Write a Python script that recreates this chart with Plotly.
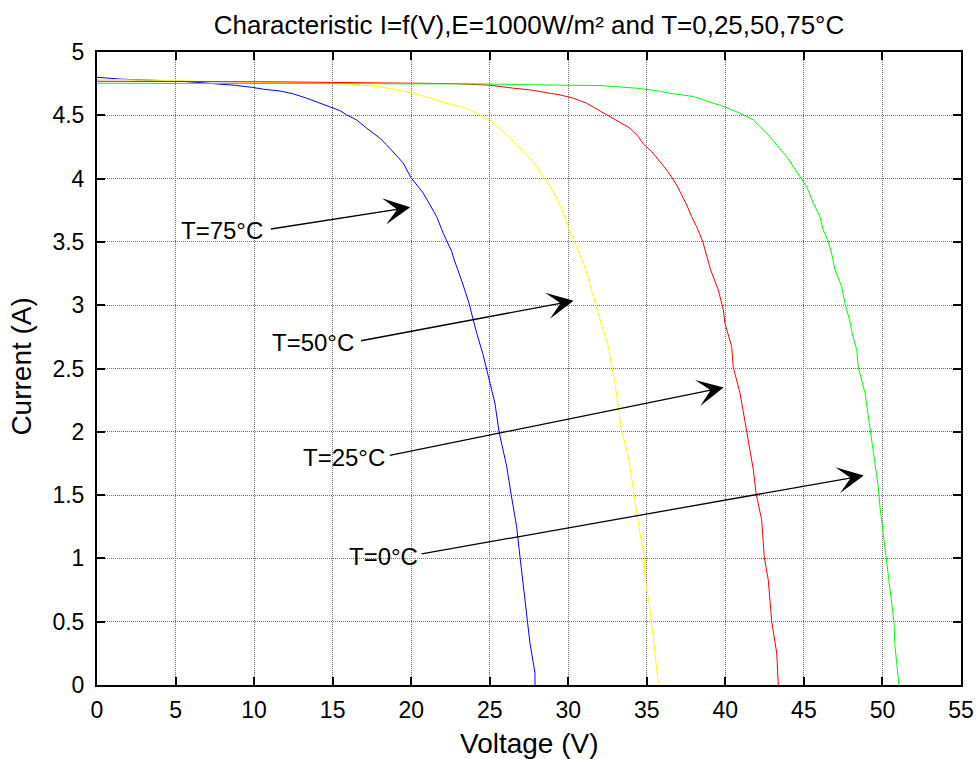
import plotly.graph_objects as go

# I-V characteristic of a PV module, E = 1000 W/m², four cell temperatures
v_t75 = [0, 1.6, 5.4, 7.4, 8.8, 9.85, 10.6, 11.65, 12.5, 13.35, 14.19, 14.83, 15.47, 15.89,
         16.53, 17.17, 18.01, 18.44, 19.08, 19.5, 19.97, 20.35, 20.77, 21.2, 21.62, 22.04,
         22.58, 22.74, 23.2, 23.68, 23.95, 24.17, 24.55, 24.76, 25.02, 25.33, 25.59, 25.86,
         26.08, 26.35, 26.71, 26.93, 27.14, 27.41, 27.56, 27.88, 27.88]
i_t75 = [4.80, 4.785, 4.769, 4.753, 4.737, 4.721, 4.706, 4.692, 4.669, 4.635, 4.595, 4.569,
         4.537, 4.503, 4.463, 4.398, 4.319, 4.266, 4.174, 4.122, 4.011, 3.95, 3.885, 3.792,
         3.70, 3.569, 3.424, 3.358, 3.20, 3.016, 2.884, 2.779, 2.621, 2.511, 2.385, 2.227,
         2.002, 1.858, 1.726, 1.516, 1.252, 1.008, 0.779, 0.502, 0.332, 0.095, 0.0]

v_t50 = [0, 6.7, 11.65, 15.89, 18.01, 19.97, 21.2, 22.26, 23.53, 24.17, 25.02, 26.08, 26.72,
         27.35, 27.99, 28.41, 28.84, 29.26, 29.68, 29.9, 30.32, 30.96, 31.17, 31.59, 32.02,
         32.55, 32.97, 33.18, 33.4, 33.72, 33.93, 34.14, 34.35, 34.56, 34.84, 34.88, 35.2,
         35.31, 35.52, 35.73]
i_t50 = [4.785, 4.769, 4.753, 4.748, 4.726, 4.679, 4.635, 4.595, 4.556, 4.516, 4.463, 4.345,
         4.266, 4.187, 4.095, 4.011, 3.937, 3.845, 3.727, 3.648, 3.516, 3.332, 3.253, 3.068,
         2.884, 2.674, 2.385, 2.20, 2.002, 1.858, 1.726, 1.542, 1.358, 1.20, 1.008, 0.858,
         0.595, 0.49, 0.253, 0.0]

v_t25 = [0, 11.65, 22.7, 25.0, 26.5, 27.6, 29.47, 30.32, 31.17, 32.23, 33.08, 33.93, 34.46,
         34.77, 35.31, 35.84, 36.26, 36.58, 36.9, 37.22, 37.54, 37.85, 38.17, 38.56, 38.81,
         39.06, 39.55, 39.87, 39.97, 40.4, 40.5, 40.93, 41.36, 41.78, 41.95, 42.31,
         42.48, 42.73, 42.95, 43.27, 43.37]
i_t25 = [4.769, 4.764, 4.75, 4.738, 4.714, 4.70, 4.661, 4.635, 4.595, 4.521, 4.463, 4.398,
         4.332, 4.274, 4.213, 4.134, 4.069, 4.011, 3.95, 3.871, 3.792, 3.70, 3.621, 3.503,
         3.398, 3.279, 3.121, 2.963, 2.858, 2.674, 2.511, 2.306, 2.002, 1.70, 1.516,
         1.305, 1.008, 0.831, 0.502, 0.253, 0.0]

v_t0 = [0, 24.4, 29.47, 32.02, 34.35, 35.63, 36.47, 37.96, 39.23, 39.93, 40.93, 41.78, 42.63,
        43.27, 43.9, 44.32, 44.75, 45.17, 45.6, 46.02, 46.23, 46.55, 46.76, 46.98, 47.4,
        47.61, 47.93, 48.04, 48.36, 48.46, 48.89, 49.1, 49.38, 49.73, 49.84, 50.05, 50.27,
        50.48, 50.73, 50.8, 51.05]
i_t0 = [4.753, 4.748, 4.738, 4.735, 4.714, 4.695, 4.674, 4.648, 4.595, 4.569, 4.516, 4.463,
        4.358, 4.266, 4.174, 4.095, 4.011, 3.937, 3.806, 3.70, 3.595, 3.503, 3.411, 3.279,
        3.147, 3.016, 2.871, 2.792, 2.647, 2.511, 2.306, 2.121, 1.911, 1.568, 1.41, 1.20,
        1.008, 0.779, 0.502, 0.305, 0.0]

curve_colors = ["#0000ff", "#ffff00", "#ff0000", "#00ff00"]

# callout labels: text, text centre (V, I), arrow tail (V, I), arrow head (V, I)
label_text = ["T=75°C", "T=50°C", "T=25°C", "T=0°C"]
label_pos = [(7.93, 3.594), (13.75, 2.705), (15.7, 1.80), (18.25, 1.015)]
arrow_tail = [(10.97, 3.60), (16.71, 2.717), (18.54, 1.812), (20.57, 1.034)]
arrow_head = [(19.94, 3.773), (30.34, 3.035), (39.89, 2.349), (48.81, 1.654)]

x_ticks = list(range(0, 56, 5))
y_ticks = [k * 0.5 for k in range(11)]

FONT = "Liberation Sans, Arial, sans-serif"

fig = go.Figure()
for v, i, c in zip([v_t75, v_t50, v_t25, v_t0], [i_t75, i_t50, i_t25, i_t0], curve_colors):
    fig.add_trace(go.Scatter(x=v, y=i, mode="lines", line=dict(color=c, width=1),
                             showlegend=False, hoverinfo="skip"))

annotations = []
for txt, (tx, ty), (ax, ay), (hx, hy) in zip(label_text, label_pos, arrow_tail, arrow_head):
    annotations.append(dict(x=hx, y=hy, ax=ax, ay=ay, xref="x", yref="y", axref="x", ayref="y",
                            text="", showarrow=True, arrowhead=3, arrowsize=3.4,
                            arrowwidth=1.3, arrowcolor="black", standoff=0))
    annotations.append(dict(x=tx, y=ty, xref="x", yref="y", text=txt, showarrow=False,
                            font=dict(family=FONT, size=24, color="black"),
                            xanchor="center", yanchor="middle"))

# axis titles
annotations.append(dict(x=0.5, y=-0.0927, xref="paper", yref="paper", text="Voltage (V)",
                        showarrow=False, font=dict(family=FONT, size=28, color="black"),
                        xanchor="center", yanchor="middle"))
annotations.append(dict(x=-0.0868, y=0.503, xref="paper", yref="paper", text="Current (A)",
                        showarrow=False, textangle=-90,
                        font=dict(family=FONT, size=28, color="black"),
                        xanchor="center", yanchor="middle"))

axis_common = dict(showline=True, linecolor="black", linewidth=2, mirror="ticks",
                   ticks="inside", ticklen=8, tickwidth=1.5, tickcolor="black",
                   showgrid=True, gridcolor="#6e6e6e", gridwidth=1, griddash="1px,1px",
                   zeroline=False, automargin=False,
                   tickfont=dict(family=FONT, size=23, color="black"))

fig.update_layout(
    width=976, height=759,
    margin=dict(l=97, r=15, t=52, b=74),
    paper_bgcolor="white", plot_bgcolor="white",
    title=dict(text="Characteristic I=f(V),E=1000W/m² and T=0,25,50,75°C",
               x=0.5, xref="paper", xanchor="center",
               y=1 - 25 / 759, yref="container", yanchor="middle",
               font=dict(family=FONT, size=26, color="black")),
    xaxis=dict(range=[0, 55], tickvals=x_ticks, ticklabelstandoff=3, **axis_common),
    yaxis=dict(range=[0, 5], tickvals=y_ticks, ticklabelstandoff=6, **axis_common),
    annotations=annotations,
)

fig.write_html("out.html")
